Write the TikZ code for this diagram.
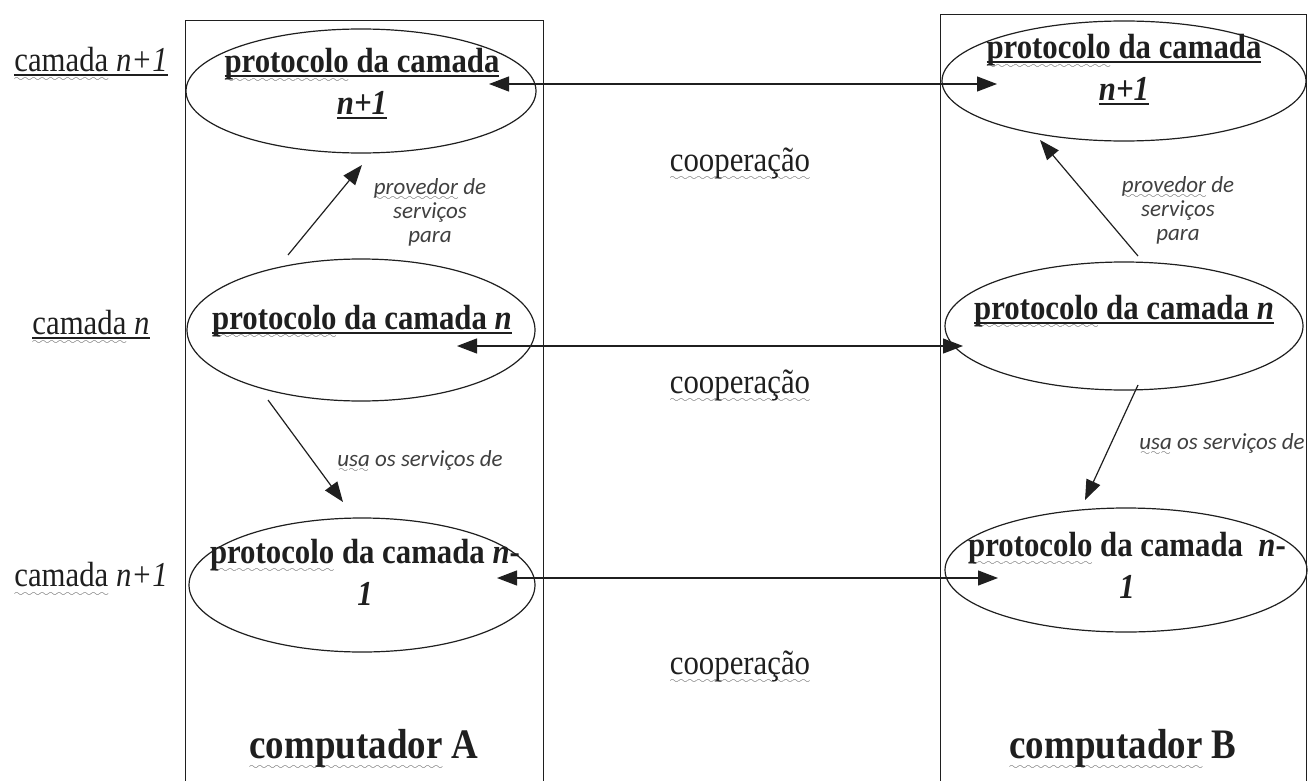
\documentclass[tikz,border=0pt]{standalone}
\usepackage{fontspec}
\setmainfont{Liberation Serif}[FakeStretch=0.88]
\newfontfamily\labfont{Carlito}
\usetikzlibrary{shapes.geometric,arrows.meta}
\definecolor{wavegray}{gray}{0.35}
\definecolor{inkc}{gray}{0.12}
\font\wavefont=lasy6 at 10pt
\newsavebox\ulbox
\newsavebox\wvbox
\newcommand\sul[1]{\leavevmode\sbox\ulbox{#1}\rlap{\rule[-0.13em]{\wd\ulbox}{0.055em}}\usebox\ulbox}
\newcommand\wv[1]{\leavevmode\sbox\wvbox{#1}\rlap{\textcolor{wavegray}{\raisebox{-0.27em}[0pt][0pt]{\hbox to \wd\wvbox{\xleaders\hbox{\wavefont\char58}\hfill}}}}\usebox\wvbox}
\tikzset{
  compbox/.style={draw=inkc, line width=1.1pt, minimum height=800pt, anchor=north west, inner sep=0pt},
  ell/.style={ellipse, draw=inkc, line width=1.2pt, inner sep=0pt},
  bt/.style={font=\fontsize{35}{42}\selectfont\bfseries, align=center, inner sep=0pt, text=inkc},
  rt/.style={font=\fontsize{35}{40}\selectfont, inner sep=0pt, text=inkc},
  ct/.style={font=\fontsize{42}{46}\selectfont\bfseries, inner sep=0pt, text=inkc},
  lt/.style={font=\labfont\itshape\fontsize{23}{24}\selectfont, align=center, inner sep=0pt, text=black!75},
  arr/.style={draw=inkc, line width=1.2pt, -{Triangle[length=20pt,width=15pt]}},
  biarr/.style={draw=inkc, line width=1.2pt, {Triangle[length=20pt,width=15pt]}-{Triangle[length=20pt,width=15pt]}},
}
\begin{document}
\begin{tikzpicture}[x=1pt,y=-1pt]
\useasboundingbox (0,0) rectangle (1308,781);
\clip (0,0) rectangle (1308,781);
% computer boxes
\node[compbox, minimum width=358pt] (boxA) at (185,20) {};
\node[compbox, minimum width=366pt] (boxB) at (940,14) {};
% ellipses
\node[ell, minimum width=350pt, minimum height=124pt] (A1) at (361,91) {};
\node[ell, minimum width=348pt, minimum height=142pt] (A2) at (361,330) {};
\node[ell, minimum width=346pt, minimum height=134pt] (A3) at (362,585) {};
\node[ell, minimum width=364pt, minimum height=120pt] (B1) at (1124,81) {};
\node[ell, minimum width=358pt, minimum height=128pt] (B2) at (1124,326) {};
\node[ell, minimum width=362pt, minimum height=124pt] (B3) at (1126,570) {};
% ellipse texts
\node[bt] (tA1) at (362,84) {\sul{\wv{protocolo} da camada}\\\sul{\textit{n+1}}};
\node[bt] (tA2) at (362,321) {\sul{\wv{protocolo} da camada \textit{n}}};
\node[bt] (tA3) at (365,572) {\wv{protocolo} da camada \textit{n}-\\\textit{1}};
\node[bt] (tB1) at (1124,70) {\sul{\wv{protocolo} da camada}\\\sul{\textit{n+1}}};
\node[bt] (tB2) at (1124,311) {\sul{\wv{protocolo} da camada \textit{n}}};
\node[bt] (tB3) at (1127,565) {\wv{protocolo} da camada\ \ \textit{n}-\\\textit{1}};
% layer labels
\node[rt] (L1) at (91,62) {\sul{\wv{camada} \textit{n+1}}};
\node[rt] (L2) at (91,325) {\sul{\wv{camada} \textit{n}}};
\node[rt] (L3) at (91,575) {\wv{camada} \textit{n+1}};
% cooperation labels
\node[rt] (c1) at (740,163) {\wv{cooperação}};
\node[rt] (c2) at (740,385) {\wv{cooperação}};
\node[rt] (c3) at (740,666) {\wv{cooperação}};
% computer labels
\node[ct] (compA) at (364,748) {\wv{computador} A};
\node[ct] (compB) at (1123,748) {\wv{computador} B};
% service labels
\node[lt] (pA) at (430,212) {\wv{provedor} de\\serviços\\para};
\node[lt] (pB) at (1178,210) {\wv{provedor} de\\serviços\\para};
\node[lt] (uA) at (420,460) {\wv{usa} os serviços de};
\node[lt] (uB) at (1222,443) {\wv{usa} os serviços de};
% cooperation arrows
\draw[biarr] ([shift={(128,-7)}]A1.center) -- ([shift={(-127,3)}]B1.center);
\draw[biarr] ([shift={(96,16)}]A2.center) -- ([shift={(-161,20)}]B2.center);
\draw[biarr] ([shift={(135,-7)}]A3.center) -- ([shift={(-128,8)}]B3.center);
% service arrows
\draw[arr] ([shift={(-73,-75)}]A2.center) -- ([shift={(1,74)}]A1.center);
\draw[arr] ([shift={(-93,70)}]A2.center) -- ([shift={(-19,-83)}]A3.center);
\draw[arr] ([shift={(14,-70)}]B2.center) -- ([shift={(-84,59)}]B1.center);
\draw[arr] ([shift={(14,59)}]B2.center) -- ([shift={(-41,-70)}]B3.center);
\end{tikzpicture}
\end{document}
